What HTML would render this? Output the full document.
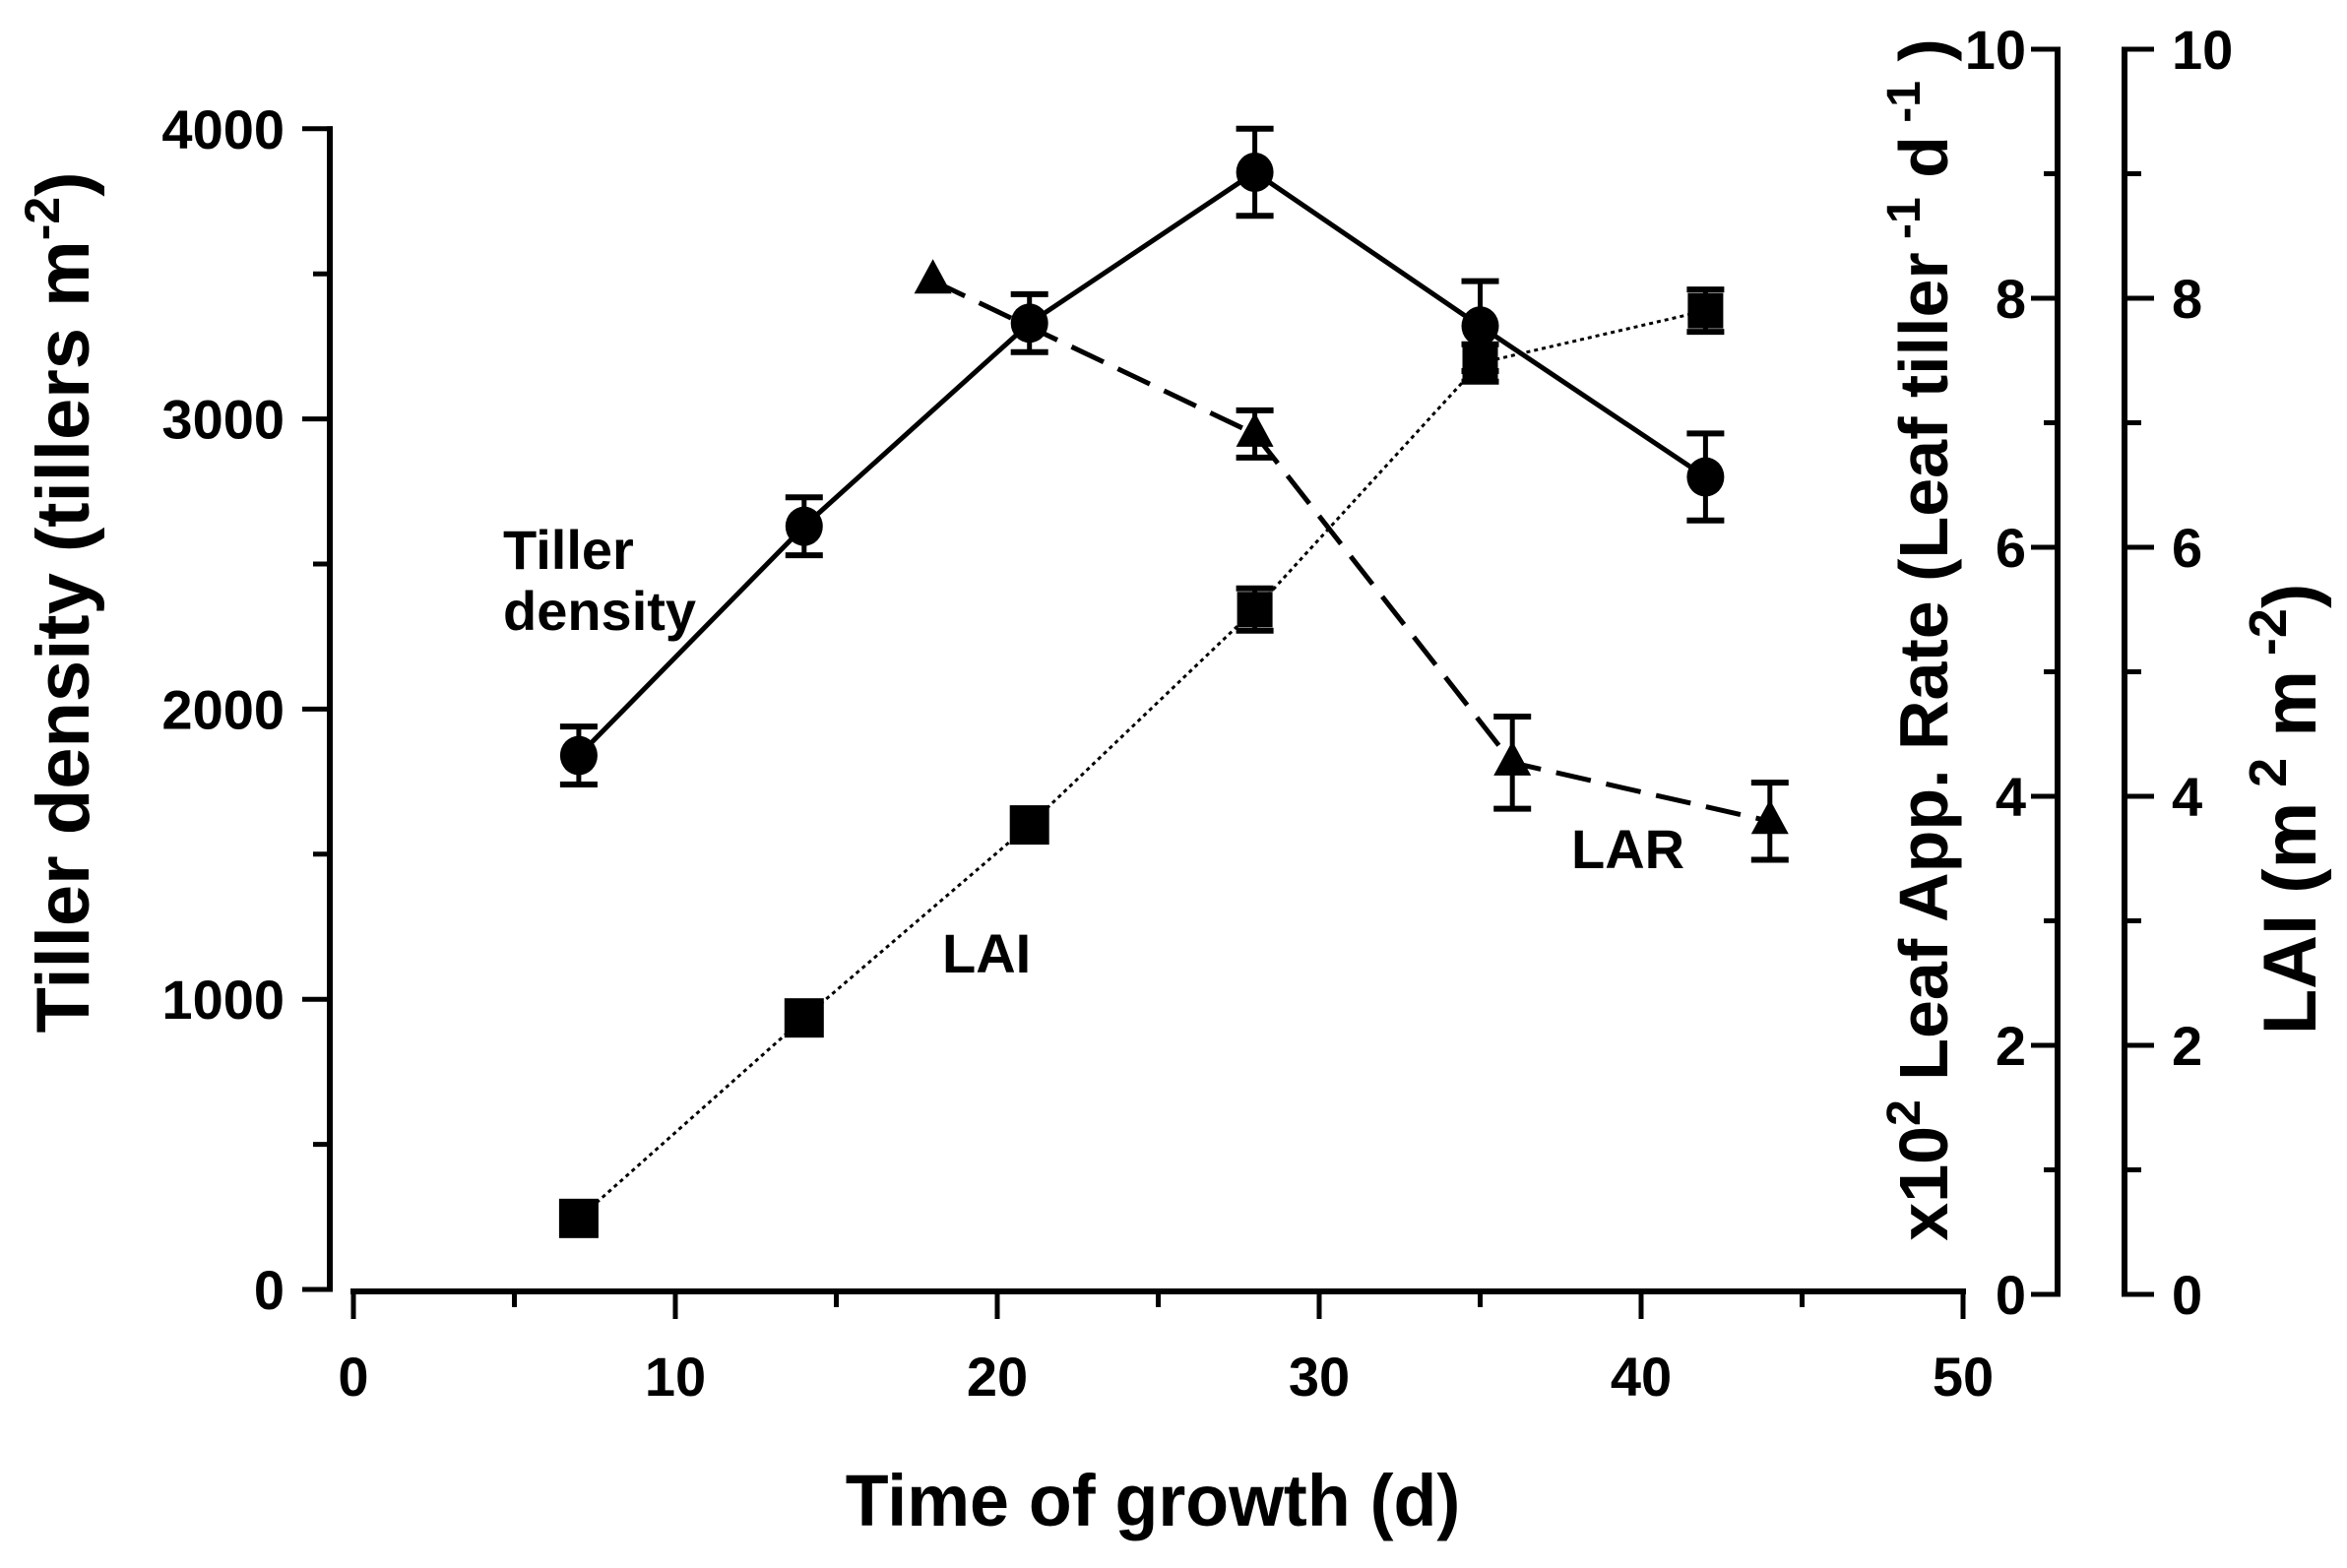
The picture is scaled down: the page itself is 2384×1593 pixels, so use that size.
<!DOCTYPE html>
<html><head><meta charset="utf-8"><style>
html,body{margin:0;padding:0;background:#fff;}
svg{display:block;}
text{font-family:"Liberation Sans",Arial,sans-serif;font-weight:bold;fill:#000;}
</style></head><body>
<svg id="chart" width="2384" height="1593" viewBox="0 0 2384 1593" xmlns="http://www.w3.org/2000/svg">
<g id="axes"></g>
<g id="series"></g>
<text x="1171" y="1550" font-size="74" text-anchor="middle" transform="translate(1171 0) scale(0.97 1) translate(-1171 0)">Time of growth (d)</text>
<text font-size="76" text-anchor="middle" transform="translate(90 612) rotate(-90)">Tiller density (tillers m<tspan dy="-30" font-size="50">-2</tspan><tspan dy="30">)</tspan></text>
<text font-size="70" text-anchor="middle" transform="translate(1978 650) rotate(-90)">x10<tspan dy="-28" font-size="48">2</tspan><tspan dy="28"> Leaf App. Rate (Leaf tiller</tspan><tspan dy="-28" font-size="48"> -1</tspan><tspan dy="28"> d</tspan><tspan dy="-28" font-size="48"> -1</tspan><tspan dy="28"> )</tspan></text>
<text font-size="76" text-anchor="middle" transform="translate(2352 822) rotate(-90)">LAI (m<tspan dy="-30" font-size="54"> 2</tspan><tspan dy="30"> m</tspan><tspan dy="-30" font-size="54"> -2</tspan><tspan dy="30">)</tspan></text>
<text x="511" y="578" font-size="56">Tiller</text>
<text x="511" y="640" font-size="56">density</text>
<text x="957" y="988" font-size="56">LAI</text>
<text x="1596" y="882" font-size="56">LAR</text>
</svg>
<script>
const days = [7, 14, 21, 28, 35, 42];
const tillerValues = [1840, 2630, 3330, 3850, 3320, 2800];
const tillerErrors = [100, 100, 100, 150, 155, 150];
const laiValues = [0.61, 2.22, 3.77, 5.5, 7.48, 7.9];
const laiErrors = [0, 0, 0, 0.17, 0.15, 0.17];
const larDays = [18, 28, 36, 44];
const larValues = [8.14, 6.91, 4.27, 3.8];
const larErrors = [0, 0.19, 0.37, 0.31];
const xTicks = [0, 10, 20, 30, 40, 50];
const leftTicks = [0, 1000, 2000, 3000, 4000];
const rightTicks = [0, 2, 4, 6, 8, 10];

const NS = "http://www.w3.org/2000/svg";
const X = d => 359 + d * 32.7;
const YL = v => 1310 - v * 0.2948;
const YR = v => 1315 - v * 126.5;
const axes = document.getElementById('axes');
const series = document.getElementById('series');
function mk(tag, attrs, parent) {
  const e = document.createElementNS(NS, tag);
  for (const k in attrs) e.setAttribute(k, attrs[k]);
  parent.appendChild(e);
  return e;
}
function line(x1, y1, x2, y2, w, parent, name) {
  const l = mk('line', {x1, y1, x2, y2, stroke: '#000', 'stroke-width': w}, parent);
  
  
  return l;
}
function txt(x, y, s, anchor, name) {
  const t = mk('text', {x, y, 'font-size': 56, 'text-anchor': anchor}, axes);
  t.textContent = s;
  
  
}
line(X(0) - 3, 1312, X(50) + 3, 1312, 6, axes, 'x-axis-line');
for (let d = 0; d <= 50; d += 5) {
  line(X(d), 1312, X(d), d % 10 === 0 ? 1340 : 1328, 5, axes, 'x-tick');
}
xTicks.forEach(t => txt(X(t), 1418, t, 'middle', 'x-tick-label'));
line(335, YL(4000) - 2.5, 335, YL(0) + 2.5, 6, axes, 'left-y-axis-line');
for (let v = 0; v <= 4000; v += 500) {
  line(v % 1000 === 0 ? 307 : 318, YL(v), 338, YL(v), 5, axes, 'left-y-tick');
}
leftTicks.forEach(t => txt(289, YL(t) + 20, t, 'end', 'left-y-tick-label'));
line(2090, YR(10) - 2.5, 2090, YR(0) + 2.5, 6, axes, 'lar-axis-line');
line(2158, YR(10) - 2.5, 2158, YR(0) + 2.5, 6, axes, 'lai-axis-line');
for (let v = 0; v <= 10; v++) {
  line(v % 2 === 0 ? 2063 : 2076, YR(v), 2092, YR(v), 5, axes, 'lar-axis-tick');
  line(2156, YR(v), v % 2 === 0 ? 2188 : 2175, YR(v), 5, axes, 'lai-axis-tick');
}
rightTicks.forEach(t => {
  txt(2058, YR(t) + 20, t, 'end', 'lar-tick-label');
  txt(2206, YR(t) + 20, t, 'start', 'lai-tick-label');
});
function poly(xs, ys, w, dash, name) {
  const p = mk('polyline', {points: xs.map((x, i) => x + ',' + ys[i]).join(' '), fill: 'none', stroke: '#000', 'stroke-width': w}, series);
  if (dash) p.setAttribute('stroke-dasharray', dash);
  
  
}
function errbar(x, yTop, yBot, name) {
  line(x, yTop, x, yBot, 5, series, name);
  line(x - 19, yTop, x + 19, yTop, 6, series, name + '-cap');
  line(x - 19, yBot, x + 19, yBot, 6, series, name + '-cap');
}
poly(days.map(X), tillerValues.map(YL), 5, null, 'tiller-density-line');
poly(days.map(X), laiValues.map(YR), 3, '4 4', 'lai-line');
poly(larDays.map(X), larValues.map(YR), 5, '36 16', 'lar-line');
days.forEach((d, i) => {
  errbar(X(d), YL(tillerValues[i] + tillerErrors[i]), YL(tillerValues[i] - tillerErrors[i]), 'tiller-error-bar');
  const c = mk('ellipse', {cx: X(d), cy: YL(tillerValues[i]), rx: 19, ry: 20, fill: '#000'}, series);
  
  
});
days.forEach((d, i) => {
  let h = 20;
  if (laiErrors[i] > 0) {
    errbar(X(d), YR(laiValues[i] + laiErrors[i]), YR(laiValues[i] - laiErrors[i]), 'lai-error-bar');
    h = 18;
  }
  const s = mk('rect', {x: X(d) - h, y: YR(laiValues[i]) - h, width: 2 * h, height: 2 * h, fill: '#000'}, series);
  
  
});
larDays.forEach((d, i) => {
  if (larErrors[i] > 0) errbar(X(d), YR(larValues[i] + larErrors[i]), YR(larValues[i] - larErrors[i]), 'lar-error-bar');
  const x = X(d), y = YR(larValues[i]);
  const t = mk('polygon', {points: `${x},${y - 22} ${x - 19},${y + 13} ${x + 19},${y + 13}`, fill: '#000'}, series);
  
  
});
</script>
</body></html>
